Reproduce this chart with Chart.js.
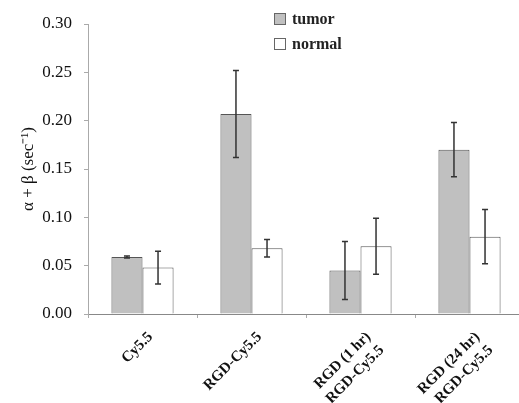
<!DOCTYPE html>
<html>
<head>
<meta charset="utf-8">
<script src="https://cdn.jsdelivr.net/npm/chart.js@4/dist/chart.umd.min.js"></script>
<style>
  html, body { margin: 0; padding: 0; background: #fff; overflow: hidden; }
  #wrap { position: relative; width: 540px; height: 403px; }
  #legend { position: absolute; left: 274px; top: 6px; font-family: "Liberation Serif", serif; font-weight: bold; font-size: 16px; color: #222; }
  #legend div { display: flex; align-items: center; height: 25px; }
  #legend span.box { display: inline-block; width: 10px; height: 10px; border: 1px solid #666; margin-right: 6px; }
</style>
</head>
<body>
<div id="wrap">
  <canvas id="chart" width="540" height="403"></canvas>
  <div id="legend">
    <div><span class="box" style="background:#c0c0c0"></span>tumor</div>
    <div><span class="box" style="background:#fff"></span>normal</div>
  </div>
</div>
<script>
document.addEventListener("DOMContentLoaded", () => {

  /* ================= DATA ================= */
  const categories = ["Cy5.5", "RGD-Cy5.5", ["RGD (1 hr)", "RGD-Cy5.5"], ["RGD (24 hr)", "RGD-Cy5.5"]];
  const tumor = [0.059, 0.207, 0.045, 0.170];
  const tumorErr = [0.001, 0.045, 0.030, 0.028];
  const normal = [0.048, 0.068, 0.070, 0.080];
  const normalErr = [0.017, 0.009, 0.029, 0.028];
  const yTicks = [0, 0.05, 0.10, 0.15, 0.20, 0.25, 0.30];

  const serif = "'Liberation Serif', 'Times New Roman', serif";

  /* ================= ERROR BARS ================= */
  const errorBars = {
    id: "errorBars",
    afterDatasetsDraw(chart) {
      const ctx = chart.ctx;
      const y = chart.scales.y;
      [tumorErr, normalErr].forEach((errs, di) => {
        const meta = chart.getDatasetMeta(di);
        meta.data.forEach((bar, i) => {
          const v = chart.data.datasets[di].data[i];
          const top = y.getPixelForValue(v + errs[i]);
          const bot = y.getPixelForValue(v - errs[i]);
          ctx.save();
          ctx.strokeStyle = "#333";
          ctx.lineWidth = 1.5;
          ctx.beginPath();
          ctx.moveTo(bar.x, top); ctx.lineTo(bar.x, bot);
          ctx.moveTo(bar.x - 3, top); ctx.lineTo(bar.x + 3, top);
          ctx.moveTo(bar.x - 3, bot); ctx.lineTo(bar.x + 3, bot);
          ctx.stroke();
          ctx.restore();
        });
      });
    }
  };

  /* ================= CHART ================= */
  new Chart(document.getElementById("chart"), {
    type: "bar",
    data: {
      labels: categories,
      datasets: [
        { label: "tumor", data: tumor, backgroundColor: "#c0c0c0", borderColor: "#555", borderWidth: 1 },
        { label: "normal", data: normal, backgroundColor: "#fff", borderColor: "#555", borderWidth: 1 }
      ]
    },
    options: {
      responsive: false,
      animation: false,
      layout: { padding: { top: 24, right: 16, left: 0, bottom: 0 } },
      datasets: { bar: { barPercentage: 1, categoryPercentage: 0.57 } },
      plugins: { legend: { display: false }, tooltip: { enabled: false } },
      scales: {
        x: {
          grid: { drawOnChartArea: false, drawTicks: true, tickLength: 4, color: "#aaa", offset: true },
          border: { color: "#888" },
          ticks: {
            color: "#111",
            font: { family: serif, size: 15, weight: "bold", lineHeight: 1.25 },
            minRotation: 45, maxRotation: 45, padding: 10, labelOffset: 8
          },
          afterFit(scale) { scale.height = 89; }
        },
        y: {
          min: 0, max: 0.30,
          afterBuildTicks(scale) { scale.ticks = yTicks.map(v => ({ value: v })); },
          grid: { drawOnChartArea: false, drawTicks: true, tickLength: 4, color: "#aaa" },
          border: { color: "#aaa" },
          ticks: {
            color: "#111",
            font: { family: serif, size: 17 },
            padding: 12,
            callback: v => v.toFixed(2)
          },
          title: {
            display: true,
            text: "\u03b1 + \u03b2 (sec\u207b\u00b9)",
            color: "#111",
            font: { family: serif, size: 17 },
            padding: { top: 18, bottom: 0 }
          },
          afterFit(scale) { scale.width = 88; }
        }
      }
    },
    plugins: [errorBars]
  });

});
</script>
</body>
</html>
